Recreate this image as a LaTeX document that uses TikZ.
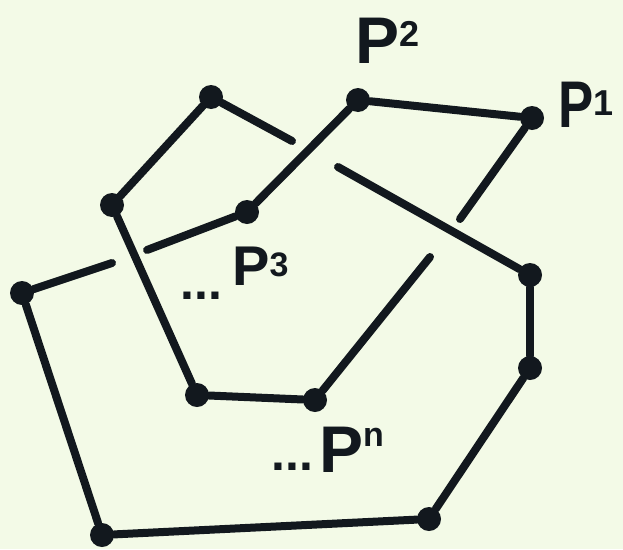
\documentclass[tikz,border=0pt]{standalone}
\usepackage{fontspec}
\setmainfont{Liberation Sans}
\definecolor{ink}{RGB}{18,24,30}
\definecolor{paper}{RGB}{243,250,231}
\begin{document}
\begin{tikzpicture}[x=1pt,y=-1pt,
  pt/.style={circle,fill=ink,inner sep=0pt,minimum size=24pt},
  seg/.style={line width=8pt,draw=ink,line cap=round},
  lbl/.style={inner sep=0pt,anchor=base west,font=\bfseries,text=ink}]
\fill[paper] (0,0) rectangle (623,549);
\useasboundingbox (0,0) rectangle (623,549);
\node[pt] (a) at (211,97) {};
\node[pt] (b) at (112,205) {};
\node[pt] (c) at (247,212) {};
\node[pt] (p2) at (358,100) {};
\node[pt] (p1) at (532,118) {};
\node[pt] (e) at (530,275) {};
\node[pt] (h) at (530,368) {};
\node[pt] (i) at (429,519) {};
\node[pt] (j) at (102,535) {};
\node[pt] (d) at (22,293) {};
\node[pt] (f) at (197,395) {};
\node[pt] (g) at (315,400) {};
\coordinate (ae) at (292,141);
\coordinate (ce) at (147,250);
\coordinate (de) at (112,263);
\coordinate (p1e) at (460,219);
\coordinate (es) at (338,167);
\coordinate (ge) at (430,257);
\draw[seg] (a) -- (ae);
\draw[seg] (a) -- (b);
\draw[seg] (b) -- (f);
\draw[seg] (f) -- (g);
\draw[seg] (g) -- (ge);
\draw[seg] (p2) -- (p1);
\draw[seg] (p2) -- (c);
\draw[seg] (c) -- (ce);
\draw[seg] (p1) -- (p1e);
\draw[seg] (es) -- (e);
\draw[seg] (e) -- (h);
\draw[seg] (h) -- (i);
\draw[seg] (i) -- (j);
\draw[seg] (j) -- (d);
\draw[seg] (d) -- (de);
\node[lbl] (l2) at (355,63) {\fontsize{66}{66}\selectfont P\raisebox{17pt}{\fontsize{36}{36}\selectfont 2}};
\node[lbl] (l1) at (558,127) {\fontsize{66}{66}\selectfont \scalebox{0.8}[1]{P}\raisebox{12pt}{\fontsize{36}{36}\selectfont 1}};
\node[lbl] (d3) at (180,299) {\fontsize{50}{50}\selectfont ...};
\node[lbl] (l3) at (232,285) {\fontsize{56}{56}\selectfont P\raisebox{9pt}{\fontsize{34}{34}\selectfont 3}};
\node[lbl] (dn) at (271,470) {\fontsize{50}{50}\selectfont ...};
\node[lbl] (ln) at (319,472) {\fontsize{66}{66}\selectfont P\raisebox{26pt}{\fontsize{34}{34}\selectfont n}};
\end{tikzpicture}
\end{document}
